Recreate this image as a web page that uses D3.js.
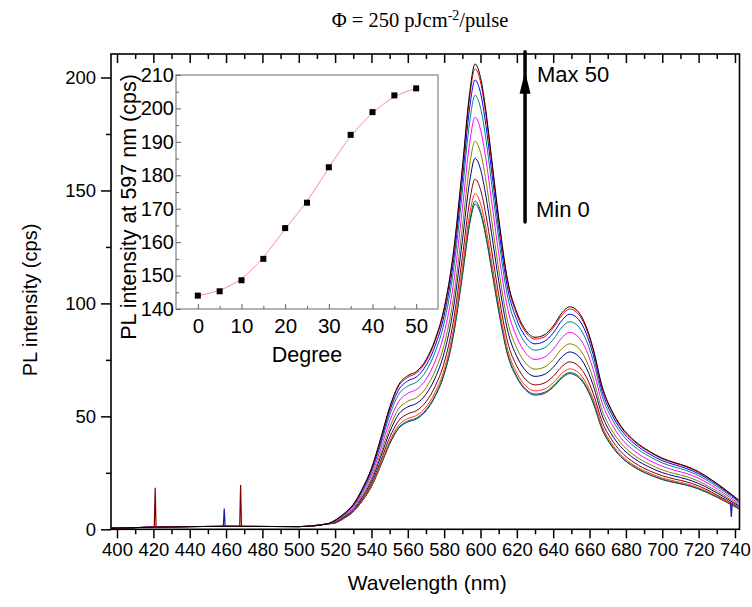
<!DOCTYPE html>
<html><head><meta charset="utf-8">
<script src="https://cdn.jsdelivr.net/npm/d3@7"></script>
<style>body{margin:0;background:#fff}svg{display:block}text{font-family:"Liberation Sans",Arial,sans-serif}</style>
</head><body>
<svg id="c" width="752" height="607"></svg>
<script>
// ---------- data ----------
const wavelengths = [397,440,460,500,515,520,525,530,535,540,545,550,555,560,565,570,575,580,585,590,594,597,600,603,606,610,615,620,625,630,635,640,645,649,653,657,662,667,672,677,685,693,700,707,713,720,727,734,742];
const spec0  = [0.5,1.2,1.3,1.2,2.3, 2.8,4.9,7.7,12.6,18.9,28,37.7,44.7,47.5,48.9, 52.4,58.7,68.5,85.3,111.8,134.9,144,139.8,129.3,115.3, 96.5,76.9,67.1,61.5,59.4,60.1,62.9,67.1,68.9,67.8, 64.3,55.9,44,37,32.2,27.3,24.1,22,20.6,19.6, 17.8,15.4,12.6,9.1];
const spec5  = [0.5,1.2,1.3,1.2,2.3, 2.8,4.9,7.8,12.7,19,28.2,38.1,45.1,47.9,49.4, 52.9,59.2,69.1,86,112.8,136.1,145.3,141,130.4,116.3, 97.3,77.6,67.7,62,59.9,60.6,63.5,67.7,69.4,68.4, 64.9,56.4,44.4,37.4,32.4,27.5,24.3,22.2,20.8,19.7, 18,15.5,12.7,9.2];
const spec10 = [0.5,1.2,1.3,1.2,2.3, 2.9,5,7.9,13,19.5,28.8,38.9,46.1,49,50.5, 54.1,60.6,70.7,88,115.4,139.2,148.6,144.2,133.4,119, 99.5,79.3,69.2,63.4,61.3,62,64.9,69.2,71,69.9, 66.3,57.7,45.4,38.2,33.2,28.1,24.9,22.7,21.3,20.2, 18.4,15.9,13,9.4];
const spec15 = [0.5,1.2,1.3,1.2,2.3, 3,5.3,8.3,13.5,20.3,30.1,40.6,48.1,51.1,52.6, 56.4,63.2,73.7,91.7,120.3,145.1,155,150.4,139.1,124.1, 103.8,82.7,72.2,66.2,63.9,64.7,67.7,72.2,74.1,72.9, 69.2,60.2,47.4,39.9,34.6,29.3,25.9,23.7,22.2,21.1, 19.2,16.5,13.5,9.8];
const spec20 = [0.5,1.2,1.3,1.2,2.3, 3.2,5.6,8.8,14.3,21.5,31.9,43,51,54.2,55.8, 59.8,66.9,78.1,97.2,127.5,153.8,164.2,159.4,147.4,131.5, 110,87.7,76.5,70.1,67.7,68.5,71.7,76.5,78.5,77.3, 73.3,63.8,50.2,42.2,36.7,31.1,27.5,25.1,23.5,22.3, 20.3,17.5,14.3,10.4];
const spec25 = [0.5,1.2,1.3,1.2,2.3, 3.3,5.8,9.2,15,22.5,33.4,45,53.4,56.7,58.4, 62.6,70.1,81.7,101.7,133.4,161,171.8,166.8,154.3,137.6, 115.1,91.7,80.1,73.4,70.9,71.7,75.1,80.1,82.1,80.9, 76.7,66.7,52.5,44.2,38.4,32.5,28.8,26.3,24.6,23.4, 21.3,18.3,15,10.8];
const spec30 = [0.5,1.2,1.3,1.2,2.3, 3.5,6.2,9.7,15.9,23.9,35.4,47.8,56.6,60.2,62, 66.4,74.3,86.7,108,141.6,170.8,182.4,177,163.7,146, 122.1,97.4,85,77.9,75.2,76.1,79.7,85,87.2,85.8, 81.4,70.8,55.8,46.9,40.7,34.5,30.5,27.9,26.1,24.8, 22.6,19.5,15.9,11.5];
const spec35 = [0.5,1.2,1.3,1.2,2.3, 3.7,6.5,10.3,16.8,25.2,37.3,50.4,59.7,63.4,65.3, 70,78.4,91.4,113.8,149.3,180.1,192.1,186.6,172.6,153.9, 128.8,102.6,89.6,82.1,79.3,80.2,84,89.6,91.9,90.5, 85.8,74.6,58.8,49.4,42.9,36.4,32.2,29.4,27.5,26.1, 23.8,20.5,16.8,12.1];
const spec40 = [0.5,1.2,1.3,1.2,2.3, 3.9,6.8,10.6,17.4,26.1,38.6,52.2,61.8,65.7,67.6, 72.5,81.1,94.7,117.9,154.6,186.4,198.9,193.2,178.7,159.4, 133.3,106.3,92.7,85,82.1,83.1,86.9,92.7,95.2,93.7, 88.9,77.3,60.9,51.2,44.4,37.7,33.3,30.4,28.5,27, 24.6,21.3,17.4,12.6];
const spec45 = [0.5,1.2,1.3,1.2,2.3, 4,6.9,10.9,17.8,26.7,39.6,53.5,63.4,67.3,69.3, 74.3,83.2,97,120.8,158.4,191.1,203.9,198,183.2,163.4, 136.6,108.9,95,87.1,84.2,85.1,89.1,95,97.5,96, 91.1,79.2,62.4,52.5,45.5,38.6,34.2,31.2,29.2,27.7, 25.2,21.8,17.8,12.9];
const spec50 = [0.5,1.2,1.3,1.2,2.3, 4,7,11,18,27,40,54,64,68,70, 75,84,98,122,160,193,206,200,185,165, 138,110,96,88,85,86,90,96,98.5,97, 92,80,63,53,46,39,34.5,31.5,29.5,28, 25.5,22,18,13];
const spectra = [spec0,spec5,spec10,spec15,spec20,spec25,spec30,spec35,spec40,spec45,spec50];
const seriesColors = ["#1c1ca0","#008000","#ff3030","#800000","#000080","#808000","#ff00ff","#008080","#0000ff","#ff0000","#000000"];

// narrow spikes in single traces
const spikeWl     = [421, 459, 468, 738];
const spikeTop    = [18.4, 9.2, 19.6, 5.5];
const spikeBase   = [0.6, 1.3, 1.2, 11.5];
const spikeSeries = [3, 0, 3, 0];

// inset: PL intensity at 597 nm vs degree
const degrees = [0,5,10,15,20,25,30,35,40,45,50];
const peak597 = [144,145.3,148.6,155,164.2,171.8,182.4,192.1,198.9,203.9,206];

const xMajorTicks = [400,420,440,460,480,500,520,540,560,580,600,620,640,660,680,700,720,740];
const xMinorTicks = [410,430,450,470,490,510,530,550,570,590,610,630,650,670,690,710,730];
const yMajorTicks = [0,50,100,150,200];
const yMinorTicks = [25,75,125,175];
const insetXTicks = [0,10,20,30,40,50];
const insetXMinor = [5,15,25,35,45];
const insetYTicks = [140,150,160,170,180,190,200,210];
const insetYMinor = [145,155,165,175,185,195,205];

// ---------- chart ----------
const svg = d3.select('#c');
const F = {l:111, r:739.5, t:54, b:529.3};
const x = d3.scaleLinear().domain([396.7,742.5]).range([F.l,F.r]);
const y = d3.scaleLinear().domain([0,210.4]).range([F.b,F.t]);

svg.append('clipPath').attr('id','clip').append('rect')
  .attr('x',F.l).attr('y',F.t).attr('width',F.r-F.l).attr('height',F.b-F.t);

const plot = svg.append('g').attr('clip-path','url(#clip)');
const line = d3.line().x((d,i)=>x(wavelengths[i])).y(d=>y(d)).curve(d3.curveMonotoneX);
spectra.forEach((s,k)=>{
  plot.append('path').attr('d',line(s)).attr('fill','none')
    .attr('stroke',seriesColors[k]).attr('stroke-width',1);
});
spikeWl.forEach((w,i)=>{
  const pts=[[w-0.5,spikeBase[i]],[w,spikeTop[i]],[w+0.5,spikeBase[i]]];
  plot.append('path').attr('d',d3.line().x(d=>x(d[0])).y(d=>y(d[1]))(pts))
    .attr('fill','none').attr('stroke',seriesColors[spikeSeries[i]]).attr('stroke-width',1.2);
});

// axes
function styleAxis(g){g.select('.domain').remove();g.selectAll('line').attr('stroke','#000').attr('stroke-width',1.5);}
svg.append('g').attr('transform',`translate(0,${F.b})`)
  .call(d3.axisBottom(x).tickValues(xMajorTicks).tickSize(9).tickPadding(5).tickFormat(d3.format('d')))
  .call(styleAxis).call(g=>g.selectAll('text').attr('font-size',18.5).attr('fill','#000'));
svg.append('g').attr('transform',`translate(0,${F.b})`)
  .call(d3.axisBottom(x).tickValues(xMinorTicks).tickSize(5).tickFormat(''))
  .call(styleAxis);
svg.append('g').attr('transform',`translate(0,${F.t})`)
  .call(d3.axisTop(x).tickValues(xMajorTicks).tickSize(-9).tickFormat(''))
  .call(styleAxis);
svg.append('g').attr('transform',`translate(0,${F.t})`)
  .call(d3.axisTop(x).tickValues(xMinorTicks).tickSize(-5).tickFormat(''))
  .call(styleAxis);
svg.append('g').attr('transform',`translate(${F.l},0)`)
  .call(d3.axisLeft(y).tickValues(yMajorTicks).tickSize(10).tickPadding(5).tickFormat(d3.format('d')))
  .call(styleAxis).call(g=>g.selectAll('text').attr('font-size',18.5).attr('fill','#000'));
svg.append('g').attr('transform',`translate(${F.l},0)`)
  .call(d3.axisLeft(y).tickValues(yMinorTicks).tickSize(5).tickFormat(''))
  .call(styleAxis);
svg.append('rect').attr('x',F.l).attr('y',F.t).attr('width',F.r-F.l).attr('height',F.b-F.t)
  .attr('fill','none').attr('stroke','#000').attr('stroke-width',1.6);

svg.append('text').attr('x',(F.l+F.r)/2+2).attr('y',590).attr('text-anchor','middle')
  .attr('font-size',21).text('Wavelength (nm)');
svg.append('text').attr('transform','translate(37,300) rotate(-90)').attr('text-anchor','middle')
  .attr('font-size',20).text('PL intensity (cps)');

// title
const title = svg.append('text').attr('x',420).attr('y',27).attr('text-anchor','middle')
  .style('font-family','"Liberation Serif","Times New Roman",serif').attr('font-size',20.5);
title.append('tspan').text('Φ = 250 pJcm');
title.append('tspan').attr('dy',-7).attr('font-size',14).text('-2');
title.append('tspan').attr('dy',7).text('/pulse');

// arrow annotation
const arrowWl = 624.5, arrowFrom = 136, arrowTo = 202.5;
svg.append('line').attr('x1',x(arrowWl)).attr('x2',x(arrowWl)).attr('y1',y(arrowFrom)).attr('y2',y(arrowTo)-20)
  .attr('stroke','#000').attr('stroke-width',3.5).attr('stroke-linecap','round');
svg.append('path').attr('d',`M${x(arrowWl)-5.5},${y(arrowTo)+22} L${x(arrowWl)+5.5},${y(arrowTo)+22} L${x(arrowWl)},${y(arrowTo)} Z`)
  .attr('fill','#000');
svg.append('text').attr('x',x(arrowWl)+12).attr('y',y(arrowTo)+10).attr('font-size',22).text('Max 50');
svg.append('text').attr('x',x(arrowWl)+11).attr('y',y(arrowFrom)-5).attr('font-size',22).text('Min 0');

// ---------- inset ----------
const I = {l:176, r:438, t:75, b:309};
const xi = d3.scaleLinear().domain([-5,55]).range([I.l,I.r]);
const yi = d3.scaleLinear().domain([140,210]).range([I.b,I.t]);
svg.append('rect').attr('x',I.l).attr('y',I.t).attr('width',I.r-I.l).attr('height',I.b-I.t)
  .attr('fill','#fff').attr('stroke','#808080').attr('stroke-width',1.2);
function styleInset(g){g.select('.domain').remove();g.selectAll('line').attr('stroke','#606060').attr('stroke-width',1);}
svg.append('g').attr('transform',`translate(0,${I.b})`)
  .call(d3.axisBottom(xi).tickValues(insetXTicks).tickSize(-5).tickPadding(9).tickFormat(d3.format('d')))
  .call(styleInset).call(g=>g.selectAll('text').attr('font-size',20.5).attr('fill','#000'));
svg.append('g').attr('transform',`translate(0,${I.b})`)
  .call(d3.axisBottom(xi).tickValues(insetXMinor).tickSize(-3).tickFormat(''))
  .call(styleInset);
svg.append('g').attr('transform',`translate(${I.l},0)`)
  .call(d3.axisLeft(yi).tickValues(insetYTicks).tickSize(-5).tickPadding(2).tickFormat(d3.format('d')))
  .call(styleInset).call(g=>g.selectAll('text').attr('font-size',20).attr('fill','#000'));
svg.append('g').attr('transform',`translate(${I.l},0)`)
  .call(d3.axisLeft(yi).tickValues(insetYMinor).tickSize(-3).tickFormat(''))
  .call(styleInset);

const fit = d3.line().x((d,i)=>xi(degrees[i])).y(d=>yi(d)).curve(d3.curveBasis);
svg.append('path').attr('d',fit(peak597)).attr('fill','none').attr('stroke','#ff8c8c').attr('stroke-width',1);
svg.append('g').selectAll('rect').data(peak597).join('rect')
  .attr('x',(d,i)=>xi(degrees[i])-3).attr('y',d=>yi(d)-3).attr('width',6).attr('height',6).attr('fill','#000');

svg.append('text').attr('x',xi(25)).attr('y',362).attr('text-anchor','middle').attr('font-size',21.5).text('Degree');
svg.append('text').attr('transform','translate(136,207) rotate(-90)').attr('text-anchor','middle')
  .attr('font-size',21.5).text('PL intensity at 597 nm (cps)');
</script>
</body></html>
